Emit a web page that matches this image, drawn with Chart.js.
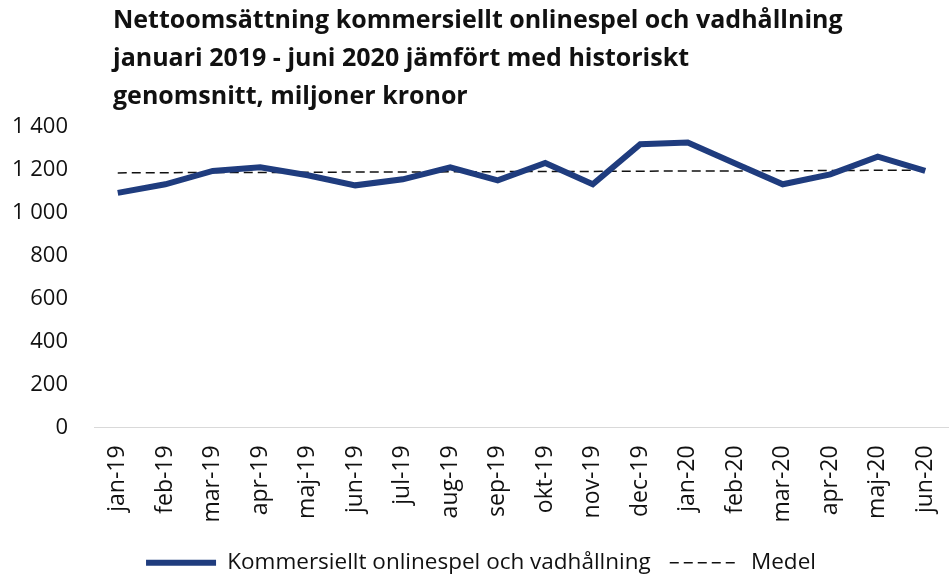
<!DOCTYPE html>
<html>
<head>
<meta charset="utf-8">
<script src="https://cdn.jsdelivr.net/npm/chart.js@4"></script>
<style>
  body { margin: 0; background: #fff; }
  #wrap { position: relative; width: 949px; height: 577px; }
  #title {
    position: absolute; left: 113px; top: -1px;
    font: bold 25px "Open Sans", sans-serif; line-height: 38px; color: #111;
  }
</style>
</head>
<body>
<div id="wrap">
  <canvas id="chart" width="949" height="577"></canvas>
  <div id="title">Nettoomsättning kommersiellt onlinespel och vadhållning<br>januari 2019 - juni 2020 jämfört med historiskt<br>genomsnitt, miljoner kronor</div>
</div>
<script>
const months = ['jan-19', 'feb-19', 'mar-19', 'apr-19', 'maj-19', 'jun-19', 'jul-19', 'aug-19', 'sep-19',
  'okt-19', 'nov-19', 'dec-19', 'jan-20', 'feb-20', 'mar-20', 'apr-20', 'maj-20', 'jun-20'];
const revenue = [1093, 1133, 1195, 1212, 1175, 1128, 1156, 1212, 1151, 1232, 1133, 1320, 1328, 1230, 1133, 1179, 1262, 1195];
const medel = [1186, 1187, 1188, 1188, 1189, 1190, 1190, 1191, 1192, 1192, 1193, 1194, 1195, 1195, 1196, 1197, 1198, 1199];
const yTicks = [0, 200, 400, 600, 800, 1000, 1200, 1400];

const font = '"Open Sans", sans-serif';
const fmt = v => String(v).replace(/\B(?=(\d{3})+(?!\d))/g, ' ');

new Chart(document.getElementById('chart'), {
  type: 'line',
  data: {
    labels: months,
    datasets: [{
      label: 'Kommersiellt onlinespel och vadhållning',
      data: revenue,
      borderColor: '#1f3c7e',
      backgroundColor: '#1f3c7e',
      borderWidth: 6,
      pointRadius: 0,
      tension: 0
    }, {
      label: 'Medel',
      data: medel,
      borderColor: '#111',
      backgroundColor: '#111',
      borderWidth: 1.5,
      borderDash: [9, 5],
      pointRadius: 0,
      tension: 0
    }]
  },
  options: {
    responsive: false,
    animation: false,
    layout: { padding: { top: 127, left: 13, right: 0, bottom: -7 } },
    scales: {
      x: {
        offset: true,
        grid: { display: false },
        border: { display: true, color: '#d9d9d9', width: 1 },
        ticks: { color: '#111', font: { family: font, size: 23 }, minRotation: 90, maxRotation: 90, padding: 10 },
        // let the first/last category run right up to the plot edges
        afterFit: s => { s.paddingLeft = 0; s.paddingRight = 0; }
      },
      y: {
        min: 0, max: 1400,
        afterBuildTicks: axis => { axis.ticks = yTicks.map(v => ({ value: v })); },
        afterFit: s => { s.width = 81; },
        grid: { display: false, drawTicks: false },
        border: { display: false },
        ticks: { color: '#111', font: { family: font, size: 22 }, padding: 26, callback: v => fmt(v) }
      }
    },
    plugins: {
      legend: {
        position: 'bottom',
        labels: {
          usePointStyle: true,
          pointStyle: 'line',
          pointStyleWidth: 70,
          boxWidth: 70,
          color: '#111',
          font: { family: font, size: 22.5 },
          padding: 19,
          // point-style legend items don't pick up the dataset dash, so copy it over
          generateLabels: chart => Chart.defaults.plugins.legend.labels.generateLabels(chart).map(item => {
            const ds = chart.data.datasets[item.datasetIndex];
            item.lineDash = ds.borderDash || [];
            item.lineWidth = ds.borderWidth;
            return item;
          })
        }
      },
      tooltip: { enabled: false }
    }
  }
});
</script>
</body>
</html>
